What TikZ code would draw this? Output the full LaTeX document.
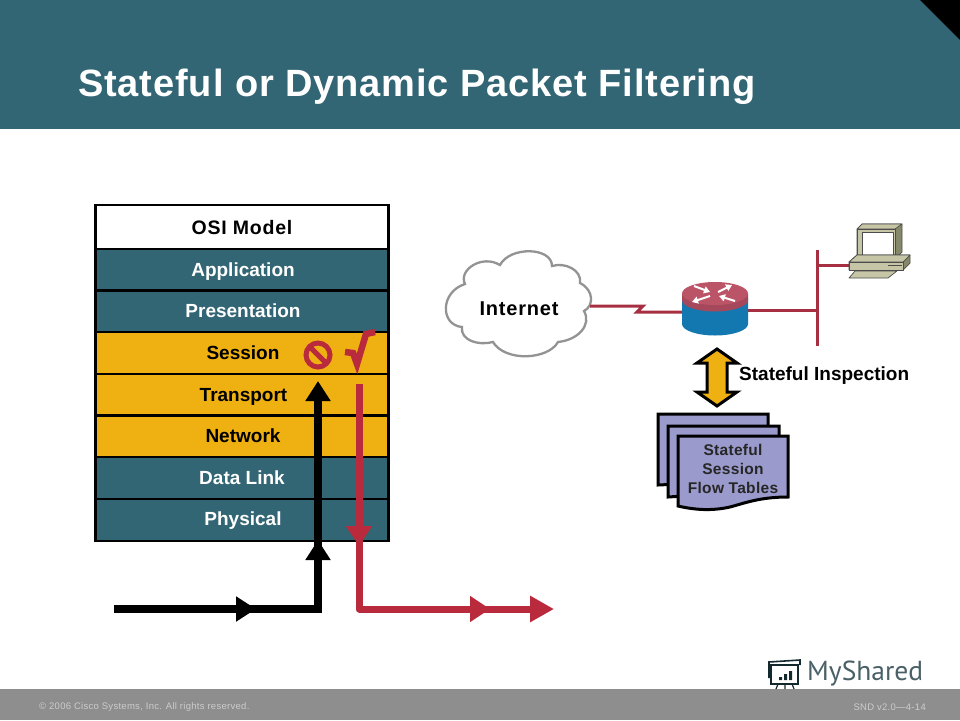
\documentclass[tikz,border=0pt]{standalone}
\usepackage{fontspec}
\setmainfont{Liberation Sans}
\newfontfamily\logofont{PT Sans}
\usetikzlibrary{arrows.meta}
\definecolor{headteal}{HTML}{336674}
\definecolor{layergold}{HTML}{EFB111}
\definecolor{wirered}{HTML}{A62F41}
\definecolor{flowred}{HTML}{B82A3C}
\definecolor{docblue}{HTML}{9A9ACC}
\definecolor{footgrey}{HTML}{8E8E8E}
\definecolor{pclight}{HTML}{C6C6A6}
\definecolor{pcdark}{HTML}{87876A}
\definecolor{routertop}{HTML}{BC5468}
\definecolor{routerrim}{HTML}{A5485C}
\definecolor{routerblue}{HTML}{1478B0}
\tikzset{
  layerbox/.style={draw=black,line width=2.6pt,minimum width=293pt,minimum height=42pt,inner sep=0pt},
  layertext/.style={anchor=base,inner sep=0pt,font=\fontsize{19}{19}\bfseries},
  blackflow/.style={draw=black,line width=7.5pt},
  redflow/.style={draw=flowred,line width=7pt,line join=round},
  blackhead/.style={blackflow,-{Triangle[length=20pt,width=24pt]}},
  redhead/.style={redflow,-{Triangle[length=20pt,width=25pt]}},
  wire/.style={draw=wirered,line width=3pt},
  docsheet/.style={draw=black,line width=3pt,fill=docblue},
  routerarrow/.style={draw=white,line width=2pt,-{Triangle[length=6pt,width=7pt]}},
  pcpart/.style={draw=black!70,line width=0.7pt,line join=round},
  boldlabel/.style={font=\fontsize{19}{19}\bfseries,inner sep=0pt},
  footlabel/.style={inner sep=0pt,text=white!55!footgrey,font=\fontsize{9.5}{9.5}\addfontfeature{LetterSpace=3}}
}
\begin{document}
\begin{tikzpicture}[x=1pt,y=-1pt]
\useasboundingbox (0,0) rectangle (960,720);
% header and footer
\fill[headteal] (0,0) rectangle (960,129);
\fill[black] (920,0) -- (960,0) -- (960,40) -- cycle;
\fill[footgrey] (0,689) rectangle (960,720);
\node[anchor=west,text=white,inner sep=0pt,font=\fontsize{38}{38}\bfseries\addfontfeature{LetterSpace=2.3}] (title) at (78,87) {Stateful or Dynamic Packet Filtering};
\node[footlabel,anchor=west] (copyright) at (39,707) {© 2006 Cisco Systems, Inc. All rights reserved.};
\node[footlabel,anchor=east] (course) at (926,707) {SND v2.0---4-14};
% OSI stack
\node[layerbox,fill=white,minimum height=44pt] (osi) at (242,227) {};
\node[layertext,font=\fontsize{19.5}{19.5}\bfseries\addfontfeature{LetterSpace=4}] (osilabel) at (242,234) {OSI Model};
\foreach \row/\ypos/\shade/\ink/\xtxt/\ybase/\txt in {app/270/headteal/white/243/276/Application,pres/311.5/headteal/white/243/317/Presentation,sess/353/layergold/black/243/359/Session,trans/395/layergold/black/243.5/401/Transport,net/436.5/layergold/black/243/442/Network,link/478/headteal/white/242/484/Data Link,phys/520/headteal/white/243/525/Physical}
{
  \node[layerbox,fill=\shade] (\row) at (242,\ypos) {};
  \node[layertext,text=\ink] (\row label) at (\xtxt,\ybase) {\txt};
}
% flows through the stack
\coordinate (blackstart) at (114,609);
\coordinate (blackmid) at (256,609);
\coordinate (blackcorner) at (318,609);
\coordinate (blacklow) at (318,540);
\coordinate (blacktop) at (318,381);
\draw[blackflow] (blackstart) -- (blackcorner) -- (318,395);
\draw[blackhead] (230,609) -- (blackmid);
\draw[blackhead] (318,565) -- (blacklow);
\draw[blackhead] (318,405) -- (blacktop);
\coordinate (redstart) at (359,384);
\coordinate (redlow) at (359,546);
\coordinate (redcorner) at (359,609);
\coordinate (redmid) at (490,609);
\coordinate (redend) at (554,609);
\draw[redflow] (redstart) -- (redcorner) -- (540,609);
\draw[redhead] (359,525) -- (redlow);
\draw[redhead] (465,609) -- (redmid);
\draw[redhead,-{Triangle[length=24pt,width=25pt]}] (525,609) -- (redend);
% deny sign and tick
\draw[flowred,line width=5pt] (318,355) circle (12pt);
\draw[flowred,line width=5pt] (309,346) -- (327,364);
\draw[flowred,line width=6.5pt,line join=miter] (345,352) -- (353,353) -- (357,364) -- (366,334) -- (375,332);
% network side
\draw[gray!85,line width=2.3pt,fill=white] (465,284)
  .. controls (458,270) and (482,254) .. (500,265)
  .. controls (510,246) and (552,247) .. (552,266)
  .. controls (565,262) and (582,270) .. (580,283)
  .. controls (594,290) and (594,306) .. (584,311)
  .. controls (592,325) and (578,340) .. (558,342)
  .. controls (548,360) and (505,362) .. (493,342)
  .. controls (478,346) and (460,340) .. (462,327)
  .. controls (440,325) and (440,292) .. (465,284) -- cycle;
\node[boldlabel,font=\fontsize{20}{20}\bfseries\addfontfeature{LetterSpace=4}] (internet) at (519,309) {Internet};
\coordinate (cloudport) at (590,306);
\coordinate (routerleft) at (683,312);
\coordinate (routerright) at (747,310);
\coordinate (lanwire) at (817,310);
\coordinate (lantop) at (817,250);
\coordinate (lanbottom) at (817,346);
\coordinate (lanpc) at (817,265);
\coordinate (pcport) at (850,265);
\draw[wire,line join=miter] (cloudport) -- (643,306) -- (637,312) -- (routerleft);
\draw[wire] (routerright) -- (lanwire);
\draw[wire] (lantop) -- (lanbottom);
\draw[wire] (lanpc) -- (pcport);
% router
\fill[routerblue] (682,298) -- (682,324) arc[start angle=180,end angle=360,x radius=33pt,y radius=11.5pt] -- (748,298) -- cycle;
\fill[routerrim] (682,294) -- (682,300) arc[start angle=180,end angle=360,x radius=33pt,y radius=11.5pt] -- (748,294) -- cycle;
\fill[routertop] (715,293.5) ellipse (33pt and 11.5pt);
\draw[routerarrow] (694,286) -- (710,292);
\draw[routerarrow] (735,301) -- (719,296);
\draw[routerarrow] (718,292) -- (732,285);
\draw[routerarrow] (710,296) -- (692,302);
% workstation
\draw[pcpart,fill=pcdark] (857,229) -- (862,224) -- (902,224) -- (902,252) -- (895,259) -- (857,259) -- cycle;
\draw[pcpart,fill=pclight] (857,229) -- (862,224) -- (902,224) -- (895,229) -- cycle;
\draw[pcpart,fill=pclight] (857,229) rectangle (895,259);
\draw[pcpart,fill=white] (862,232) rectangle (893,255);
\draw[pcpart,fill=pcdark] (849,262) -- (857,255) -- (910,255) -- (910,263) -- (903,270) -- (849,270) -- cycle;
\draw[pcpart,fill=pclight] (849,262) -- (857,255) -- (910,255) -- (903,262) -- cycle;
\draw[pcpart,fill=pclight] (849,262) rectangle (903,270);
\draw[pcpart] (888,265) -- (902,265);
\draw[pcpart,fill=pclight] (855,271) -- (897,271) -- (888,278) -- (849,278) -- cycle;
% inspection arrow
\draw[black,line width=3pt,fill=layergold,line join=miter] (717,349) -- (737,363) -- (727,363) -- (727,392) -- (737,392) -- (717,406) -- (697,392) -- (707,392) -- (707,363) -- (697,363) -- cycle;
\node[boldlabel,anchor=west] (inspect) at (739,376) {Stateful Inspection};
% flow tables
\draw[docsheet] (658,414) -- (768,414) -- (768,480) -- (658,485) -- cycle;
\draw[docsheet] (668,426) -- (779,426) -- (779,490) -- (668,497) -- cycle;
\draw[docsheet] (678,436) -- (788,436) -- (788,497)
  .. controls (760,497) and (745,503) .. (730,507)
  .. controls (712,511) and (695,510) .. (678,506) -- cycle;
\node[align=center,inner sep=0pt,text=black!85,font=\fontsize{15.5}{19}\bfseries\addfontfeature{LetterSpace=2}] (tables) at (733,469) {Stateful\\Session\\Flow Tables};
% logo
\node[anchor=west,inner sep=0pt,text=black!45!headteal!80!white,font=\logofont\fontsize{27.5}{27.5}\selectfont] (logo) at (807,674) {MyShared};
\draw[black!60!headteal,line width=1.6pt] (771,665) rectangle (798,684);
\draw[black!60!headteal,line width=1.6pt] (769,678) -- (769,662) -- (800,660) -- (800,665);
\fill[black!60!headteal] (779,677) rectangle (782,680) (784,674) rectangle (787,680) (789,671) rectangle (792,680);
\draw[black!60!headteal,line width=1.2pt] (778,684) -- (776,689) (785,684) -- (785,689) (792,684) -- (794,689);
\end{tikzpicture}
\end{document}
